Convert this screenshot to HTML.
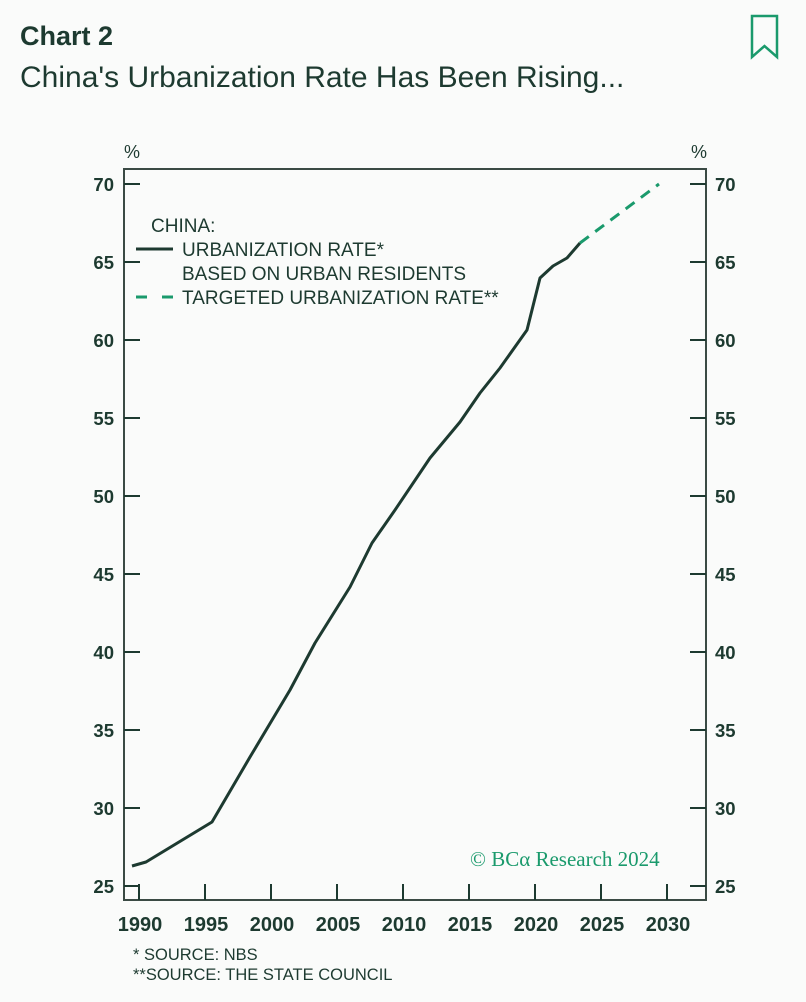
<!DOCTYPE html>
<html><head><style>
body{margin:0;background:#fafbfa;width:806px;height:1002px;overflow:hidden;font-family:"Liberation Sans",sans-serif;color:#1d3a30}
</style></head><body>
<svg width="806" height="1002" style="position:absolute;left:0;top:0">
<text x="20" y="45" font-size="27" font-weight="bold" fill="#1d3a30">Chart 2</text>
<text x="20" y="87" font-size="30" fill="#1d3a30">China's Urbanization Rate Has Been Rising...</text>
<path d="M752 16 H777 V57 L764.5 46 L752 57 Z" fill="none" stroke="#1a9a6c" stroke-width="2.5"/>
<g font-size="18" fill="#1d3a30">
<text x="124" y="158">%</text><text x="691" y="158">%</text>
</g>
<rect x="124" y="169" width="582" height="731" fill="none" stroke="#3a4a44" stroke-width="2"/>
<g stroke="#1d3a30" stroke-width="2">
<path d="M124 184h16M124 262h16M124 340h16M124 418h16M124 496h16M124 574h16M124 652h16M124 730h16M124 808h16M124 886h16"/>
<path d="M706 184h-16M706 262h-16M706 340h-16M706 418h-16M706 496h-16M706 574h-16M706 652h-16M706 730h-16M706 808h-16M706 886h-16"/>
<path d="M139 900v-16M205 900v-16M271 900v-16M337 900v-16M403 900v-16M469 900v-16M535 900v-16M601 900v-16M667 900v-16"/>
</g>
<g font-size="18.5" font-weight="bold" fill="#1d3a30" text-anchor="end">
<text x="114" y="191">70</text><text x="114" y="269">65</text><text x="114" y="347">60</text><text x="114" y="425">55</text><text x="114" y="503">50</text><text x="114" y="581">45</text><text x="114" y="659">40</text><text x="114" y="737">35</text><text x="114" y="815">30</text><text x="114" y="893">25</text>
</g>
<g font-size="18.5" font-weight="bold" fill="#1d3a30">
<text x="715" y="191">70</text><text x="715" y="269">65</text><text x="715" y="347">60</text><text x="715" y="425">55</text><text x="715" y="503">50</text><text x="715" y="581">45</text><text x="715" y="659">40</text><text x="715" y="737">35</text><text x="715" y="815">30</text><text x="715" y="893">25</text>
</g>
<g font-size="20" font-weight="bold" fill="#1d3a30" text-anchor="middle">
<text x="140" y="931">1990</text><text x="206" y="931">1995</text><text x="272" y="931">2000</text><text x="338" y="931">2005</text><text x="404" y="931">2010</text><text x="470" y="931">2015</text><text x="536" y="931">2020</text><text x="602" y="931">2025</text><text x="668" y="931">2030</text>
</g>
<polyline fill="none" stroke="#1d3a30" stroke-width="3" stroke-linejoin="round" points="132,866 146,862 212,822 250,757 290,690 315,643 350,587 372,543 395,510 430,458 460,422 480,393 500,368 527,330 540,278 553,266 567,258 580,243"/>
<path d="M580 243 L659 184" stroke="#1a9a6c" stroke-width="3" stroke-dasharray="11,8"/>
<g font-size="19" fill="#1d3a30">
<text x="151" y="232">CHINA:</text>
<text x="182" y="256">URBANIZATION RATE*</text>
<text x="182" y="280">BASED ON URBAN RESIDENTS</text>
<text x="182" y="304">TARGETED URBANIZATION RATE**</text>
</g>
<path d="M136 249h37" stroke="#1d3a30" stroke-width="3"/>
<path d="M136 297h37" stroke="#1a9a6c" stroke-width="3" stroke-dasharray="11,15"/>
<text x="470" y="866" font-family="Liberation Serif,serif" font-size="21" fill="#1a9a6c">© BCα Research 2024</text>
<g font-size="16.5" fill="#1d3a30">
<text x="133" y="960">* SOURCE: NBS</text>
<text x="133" y="980">**SOURCE: THE STATE COUNCIL</text>
</g>
</svg>
</body></html>
